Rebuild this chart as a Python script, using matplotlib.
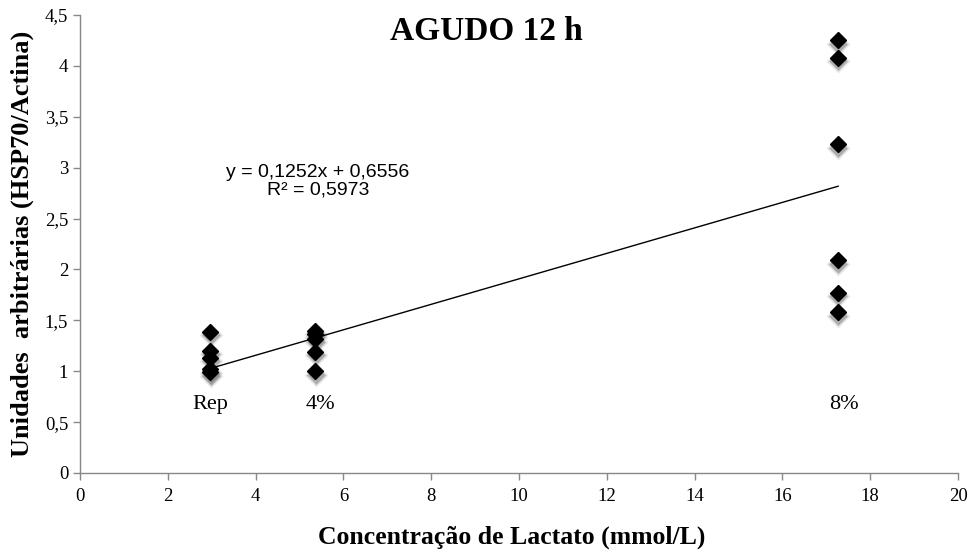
import numpy as np
import matplotlib.pyplot as plt
from matplotlib.ticker import FuncFormatter
import matplotlib.transforms as mtransforms

# lactate concentration (mmol/L) for each group
rep_x = [2.97] * 5
pct4_x = [5.36] * 5
pct8_x = [17.27] * 6

# HSP70/Actina, arbitrary units
rep_y = [1.39, 1.20, 1.13, 1.02, 0.99]
pct4_y = [1.40, 1.37, 1.32, 1.19, 1.00]
pct8_y = [4.25, 4.08, 3.23, 2.09, 1.77, 1.58]

group_labels = ['Rep', '4%', '8%']
label_x = [2.96, 5.47, 17.4]
label_y = 0.67

# linear trend from the fitted equation
slope = 0.1252
intercept = 0.6556
r2 = 0.5973

x = np.array(rep_x + pct4_x + pct8_x)
y = np.array(rep_y + pct4_y + pct8_y)

serif = 'Liberation Serif'

fig = plt.figure(figsize=(9.73, 5.56), dpi=100)
ax = fig.add_axes([0.0822, 0.1493, 0.9024, 0.8237])

# soft shadow under the markers, a few stacked layers fake the blur
for ms, a in [(12, 0.14), (10.5, 0.22), (9, 0.32)]:
    shadow = mtransforms.offset_copy(ax.transData, fig=fig, x=0.2, y=-2.4, units='points')
    ax.plot(x, y, 'D', ms=ms, color='#666666', alpha=a, mec='none', transform=shadow, zorder=2)
ax.plot(x, y, 'D', ms=8.5, color='black', mec='black', zorder=3)

xfit = np.array([x.min(), x.max()])
ax.plot(xfit, slope * xfit + intercept, color='black', lw=1.0, zorder=4)

ax.text(5.42, 2.87, f'y = {slope:.4f}x + {intercept:.4f}\nR² = {r2:.4f}'.replace('.', ','),
        ha='center', va='center', fontsize=14, family='Liberation Sans', linespacing=1.05)

for lx, lab in zip(label_x, group_labels):
    ax.text(lx, label_y, lab, ha='center', va='center', fontsize=16, family=serif)

ax.set_xlim(0, 20)
ax.set_ylim(0, 4.5)
ax.set_xticks(np.arange(0, 21, 2))
ax.set_yticks(np.arange(0, 4.51, 0.5))
ax.yaxis.set_major_formatter(FuncFormatter(lambda v, p: f'{v:g}'.replace('.', ',')))

for s in ['top', 'right']:
    ax.spines[s].set_visible(False)
for s in ['left', 'bottom']:
    ax.spines[s].set_color('#888888')
    ax.spines[s].set_linewidth(1.0)
ax.tick_params(colors='#888888', length=5, width=1.0, labelcolor='black', labelsize=13.5)
ax.tick_params(axis='x', pad=6)
for lab in ax.get_xticklabels() + ax.get_yticklabels():
    lab.set_family(serif)

ax.set_xlabel('Concentração de Lactato (mmol/L)', fontsize=18.5, fontweight='bold', family=serif)
ax.xaxis.set_label_coords(0.4915, -0.115)
ax.set_ylabel('Unidades  arbitrárias (HSP70/Actina)', fontsize=19, fontweight='bold', family=serif, labelpad=8)
fig.text(0.5, 0.944, 'AGUDO 12 h', ha='center', va='center', fontsize=24, fontweight='bold', family=serif)

fig.savefig('out.png', dpi=100)
